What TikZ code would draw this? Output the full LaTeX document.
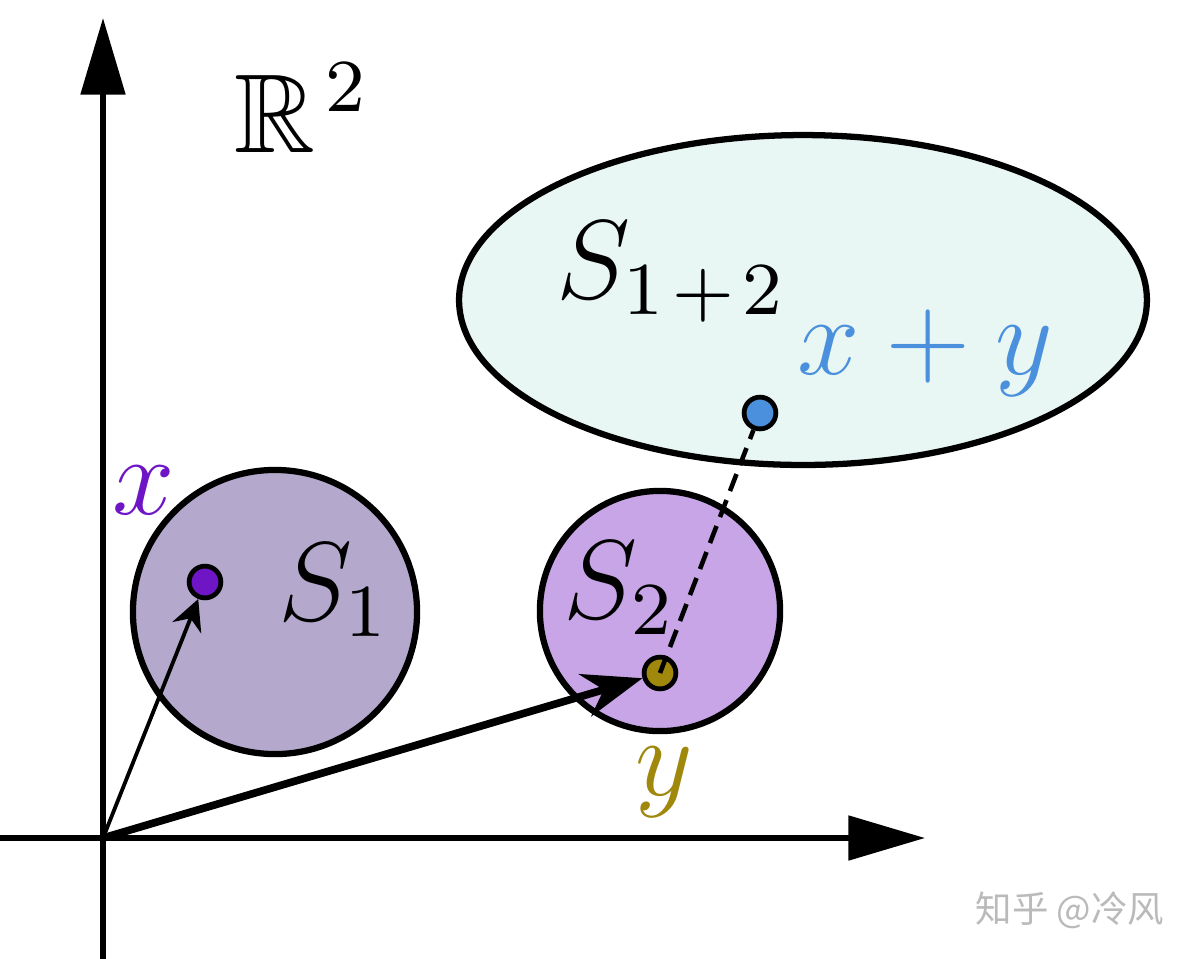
\documentclass[tikz,border=0pt]{standalone}
\usepackage{amssymb}
\usepackage{fontspec}
\newfontfamily\cjk{Noto Sans CJK SC}
\usetikzlibrary{arrows.meta,shapes.geometric}
\definecolor{sonefill}{RGB}{180,169,205}
\definecolor{stwofill}{RGB}{200,165,230}
\definecolor{ellfill}{RGB}{232,246,244}
\definecolor{xcol}{RGB}{110,22,198}
\definecolor{bcol}{RGB}{74,144,220}
\definecolor{ycol}{RGB}{160,136,12}
\tikzset{
  region/.style={draw=black, line width=0.67pt, inner sep=0pt},
  dotnode/.style={circle, draw=black, line width=0.51pt, minimum size=3.4pt, inner sep=0pt},
  lbl/.style={inner sep=0pt, outer sep=0pt, font=\fontsize{12}{14}\selectfont},
  axisline/.style={line width=0.58pt, -{Triangle[length=8.2pt, width=4.7pt]}},
  thinvec/.style={line width=0.41pt, -{Stealth[length=3.3pt, width=3.3pt]}},
  thickvec/.style={line width=0.82pt, -{Stealth[length=6.4pt, width=4.7pt]}},
  dashline/.style={line width=0.49pt, dash pattern=on 1.95pt off 1.03pt}
}
\begin{document}
\begin{tikzpicture}[x=0.107pt, y=-0.107pt]
\useasboundingbox (0,0) rectangle (1193,958);
\fill[white] (0,0) rectangle (1193,958);
% regions
\node[region, ellipse, fill=ellfill, minimum width=73.6pt, minimum height=35.3pt] (s12) at (803,300) {};
\node[region, circle, fill=sonefill, minimum size=30.4pt] (s1) at (275,612) {};
\node[region, circle, fill=stwofill, minimum size=25.7pt] (s2) at (660,611) {};
% axes
\coordinate (O) at (103,838);
\coordinate (ybot) at (103,962);
\coordinate (ytop) at (103,18);
\coordinate (xleft) at (-4,838);
\coordinate (xright) at (925,838);
\draw[axisline] (ybot) -- (ytop);
\draw[axisline] (xleft) -- (xright);
% points
\node[dotnode, fill=xcol] (xd) at (205,582) {};
\node[dotnode, fill=ycol] (yd) at (660,673) {};
\node[dotnode, fill=bcol] (bd) at (760,413) {};
% vectors
\draw[thinvec] (O) -- (xd);
\draw[thickvec] (O) -- (yd);
\draw[dashline] (yd.center) -- (bd);
% labels
\node[lbl, anchor=base west] (r2) at (235,152) {$\mathbb{R}^{\kern1pt 2}$};
\node[lbl, anchor=base west] (s1l) at (278,620) {$S_1$};
\node[lbl, anchor=base west] (s2l) at (564,618) {$S_2$};
\node[lbl, anchor=base west] (s12l) at (556,298) {$S_{1\mkern2mu+\mkern2mu2}$};
\node[lbl, anchor=base west, text=bcol] (xyl) at (798,374) {$x+y$};
\node[lbl, anchor=base, text=xcol] (xl) at (144,514) {$x$};
\node[lbl, anchor=base, text=ycol] (yl) at (664,795) {$y$};
\node[inner sep=0pt, font=\cjk\fontsize{3.9}{4}\selectfont, text=black!27] (wm) at (1070,910) {知乎 @冷风};
\end{tikzpicture}
\end{document}
